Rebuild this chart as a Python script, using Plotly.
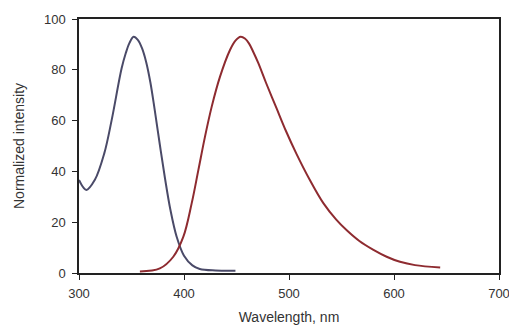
import plotly.graph_objects as go

# Excitation (blue) spectrum
exc_wavelength = [300, 307, 315, 324, 331, 340.6, 344.5, 348, 352, 356, 360, 364, 368, 372, 377, 382, 387, 393, 400, 408, 415, 430, 449]
exc_intensity = [36.6, 32.7, 36.6, 47, 60, 80.6, 86.5, 90.5, 93, 91.8, 88.5, 83, 75, 64.5, 50.5, 37, 25, 14.3, 6.8, 3, 1.6, 1.0, 0.9]

# Emission (red) spectrum
em_wavelength = [358, 377, 389.8, 399.4, 407.3, 413.7, 420, 426.4, 434.3, 443.8, 449, 454, 458, 462, 466, 470.8, 478, 488, 497, 507, 520, 532.7, 545, 555, 567, 580, 593, 605.7, 620, 644]
em_intensity = [0.6, 1.8, 6.4, 14.3, 27.4, 40.6, 53.7, 65.5, 77.3, 87.8, 91.5, 93, 92.3, 90.3, 87, 82.6, 75, 65, 56, 47, 36.5, 27.5, 21, 16.8, 12.6, 9.2, 6.4, 4.4, 3.1, 2.2]

x_ticks = [300, 400, 500, 600, 700]
y_ticks = [0, 20, 40, 60, 80, 100]

fig = go.Figure()
fig.add_trace(go.Scatter(x=exc_wavelength, y=exc_intensity, mode="lines",
                         line=dict(color="#4a4a68", width=2, shape="spline", smoothing=1.0),
                         showlegend=False, hoverinfo="skip"))
fig.add_trace(go.Scatter(x=em_wavelength, y=em_intensity, mode="lines",
                         line=dict(color="#8e2b30", width=2, shape="spline", smoothing=1.0),
                         showlegend=False, hoverinfo="skip"))

font_family = "Liberation Sans, Arial, sans-serif"
fig.update_layout(
    width=513, height=325,
    margin=dict(l=79, r=14, t=19, b=52),
    plot_bgcolor="white", paper_bgcolor="white",
    font=dict(family=font_family, size=13, color="#333333"),
    xaxis=dict(range=[300, 700], tickvals=x_ticks, ticks="outside", ticklen=5,
               tickcolor="#222", showline=True, linecolor="#222", linewidth=1.5,
               mirror=True, showgrid=False, zeroline=False, ticklabelstandoff=3,
               automargin=False,
               title=dict(text="Wavelength, nm", font=dict(size=14), standoff=14)),
    yaxis=dict(range=[0, 100], tickvals=y_ticks, ticks="outside", ticklen=5,
               tickcolor="#222", showline=True, linecolor="#222", linewidth=1.5,
               mirror=True, showgrid=False, zeroline=False, ticklabelstandoff=4,
               automargin=False,
               title=dict(text="Normalized intensity", font=dict(size=14), standoff=16)),
)

fig.write_html("out.html", config={"displayModeBar": False},
               post_script="document.body.style.margin='0';document.body.style.overflow='hidden';")
